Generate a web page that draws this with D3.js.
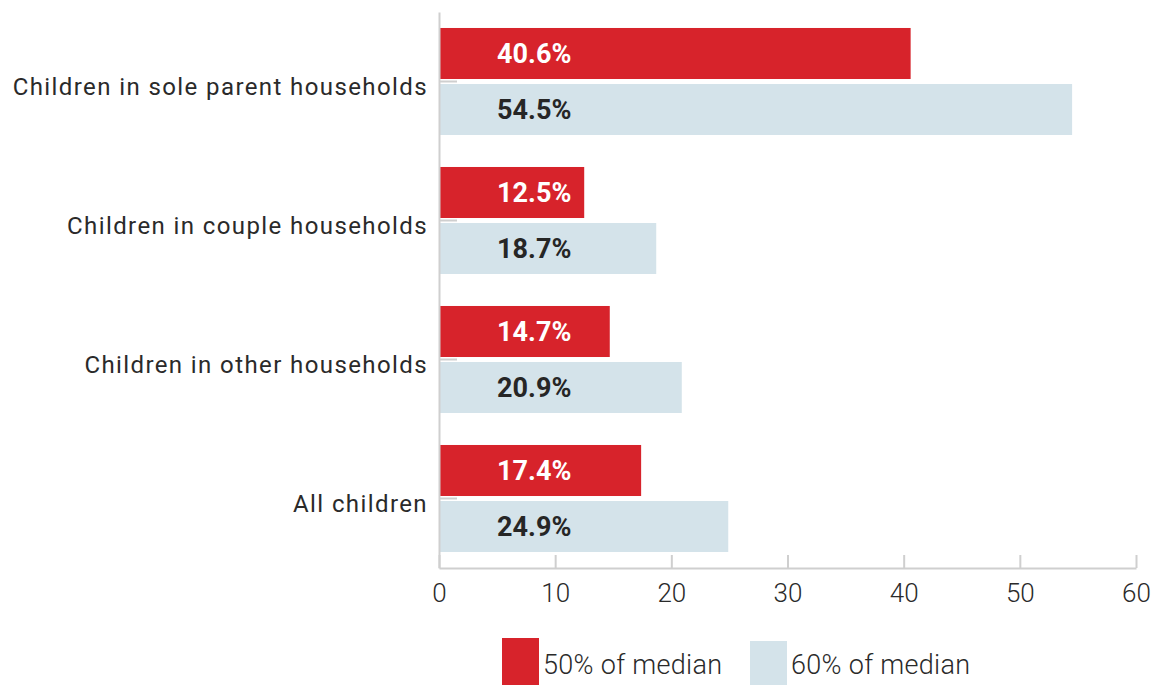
<!DOCTYPE html>
<html>
<head>
<meta charset="utf-8">
<script src="https://cdn.jsdelivr.net/npm/d3@7"></script>
<style>
  body { margin: 0; background: #fff; }
  svg { display: block; font-family: Roboto, sans-serif; }
</style>
</head>
<body>
<svg></svg>
<script>
const categories = [
    'Children in sole parent households',
    'Children in couple households',
    'Children in other households',
    'All children'
]
const seriesNames = ['50% of median', '60% of median']
const values50 = [40.6, 12.5, 14.7, 17.4]
const values60 = [54.5, 18.7, 20.9, 24.9]
const xTicks = [0, 10, 20, 30, 40, 50, 60]

const colors = ['#d7232b', '#d4e3ea']
const labelColors = ['#ffffff', '#262626']

const width = 1156,
    height = 685
const margin = { top: 12, right: 20, bottom: 117, left: 439 }

const svg = d3.select('svg').attr('width', width).attr('height', height)

const x = d3
    .scaleLinear()
    .domain([0, 60])
    .range([margin.left, width - margin.right])
const y = d3
    .scaleBand()
    .domain(categories)
    .range([margin.top, height - margin.bottom])
    .paddingInner(0.23)
    .paddingOuter(0.115)
const ySub = d3
    .scaleBand()
    .domain(seriesNames)
    .range([0, y.bandwidth()])
    .paddingInner(0.089)

const rows = categories.map((c, i) => ({
    category: c,
    items: [
        { series: seriesNames[0], value: values50[i], k: 0 },
        { series: seriesNames[1], value: values60[i], k: 1 }
    ]
}))

// x axis, ticks pointing up
const xAxis = svg
    .append('g')
    .attr('transform', `translate(0,${height - margin.bottom})`)
    .call(
        d3
            .axisBottom(x)
            .tickValues(xTicks)
            .tickSize(-13)
            .tickPadding(16)
            .tickSizeOuter(0)
    )
xAxis.select('.domain').attr('stroke', '#cfcfcf').attr('stroke-width', 2)
xAxis.selectAll('.tick line').attr('stroke', '#cfcfcf').attr('stroke-width', 2)
xAxis
    .selectAll('.tick text')
    .attr('fill', '#2a2a2a')
    .attr('font-size', 26)
    .attr('font-family', 'Roboto, sans-serif')
    .attr('font-weight', 300)

const groups = svg
    .append('g')
    .selectAll('g')
    .data(rows)
    .join('g')
    .attr('transform', (d) => `translate(0,${y(d.category)})`)

groups
    .selectAll('rect')
    .data((d) => d.items)
    .join('rect')
    .attr('x', x(0))
    .attr('y', (d) => ySub(d.series))
    .attr('width', (d) => x(d.value) - x(0))
    .attr('height', ySub.bandwidth())
    .attr('fill', (d) => colors[d.k])

groups
    .selectAll('text')
    .data((d) => d.items)
    .join('text')
    .attr('x', x(8.2))
    .attr('y', (d) => ySub(d.series) + ySub.bandwidth() / 2)
    .attr('dy', '0.36em')
    .attr('text-anchor', 'middle')
    .attr('font-size', 27)
    .attr('font-weight', 700)
    .attr('fill', (d) => labelColors[d.k])
    .text((d) => d3.format('.1f')(d.value) + '%')

// y axis, small inner ticks
const yAxis = svg
    .append('g')
    .attr('transform', `translate(${x(0)},0)`)
    .call(d3.axisLeft(y).tickSize(-18).tickPadding(11).tickSizeOuter(0))
yAxis.select('.domain').attr('stroke', '#cfcfcf').attr('stroke-width', 2)
yAxis.selectAll('.tick line').attr('stroke', '#cfcfcf').attr('stroke-width', 2)
yAxis
    .selectAll('.tick text')
    .attr('fill', '#2a2a2a')
    .attr('font-size', 24)
    .attr('font-family', 'Roboto, sans-serif')
    .attr('font-weight', 400)
    .attr('letter-spacing', 1.4)
    .attr('dy', '0.55em')

// legend
const legend = svg
    .append('g')
    .selectAll('g')
    .data(seriesNames)
    .join('g')
    .attr('transform', (d, i) => `translate(${502 + i * 248},0)`)
legend
    .append('rect')
    .attr('x', 0)
    .attr('y', (d, i) => 638 + i * 3)
    .attr('width', 37)
    .attr('height', 50)
    .attr('fill', (d, i) => colors[i])
legend
    .append('text')
    .attr('x', 41)
    .attr('y', 674)
    .attr('font-size', 27)
    .attr('font-weight', 300)
    .attr('letter-spacing', 0.3)
    .attr('fill', '#2a2a2a')
    .text((d) => d)
</script>
</body>
</html>
